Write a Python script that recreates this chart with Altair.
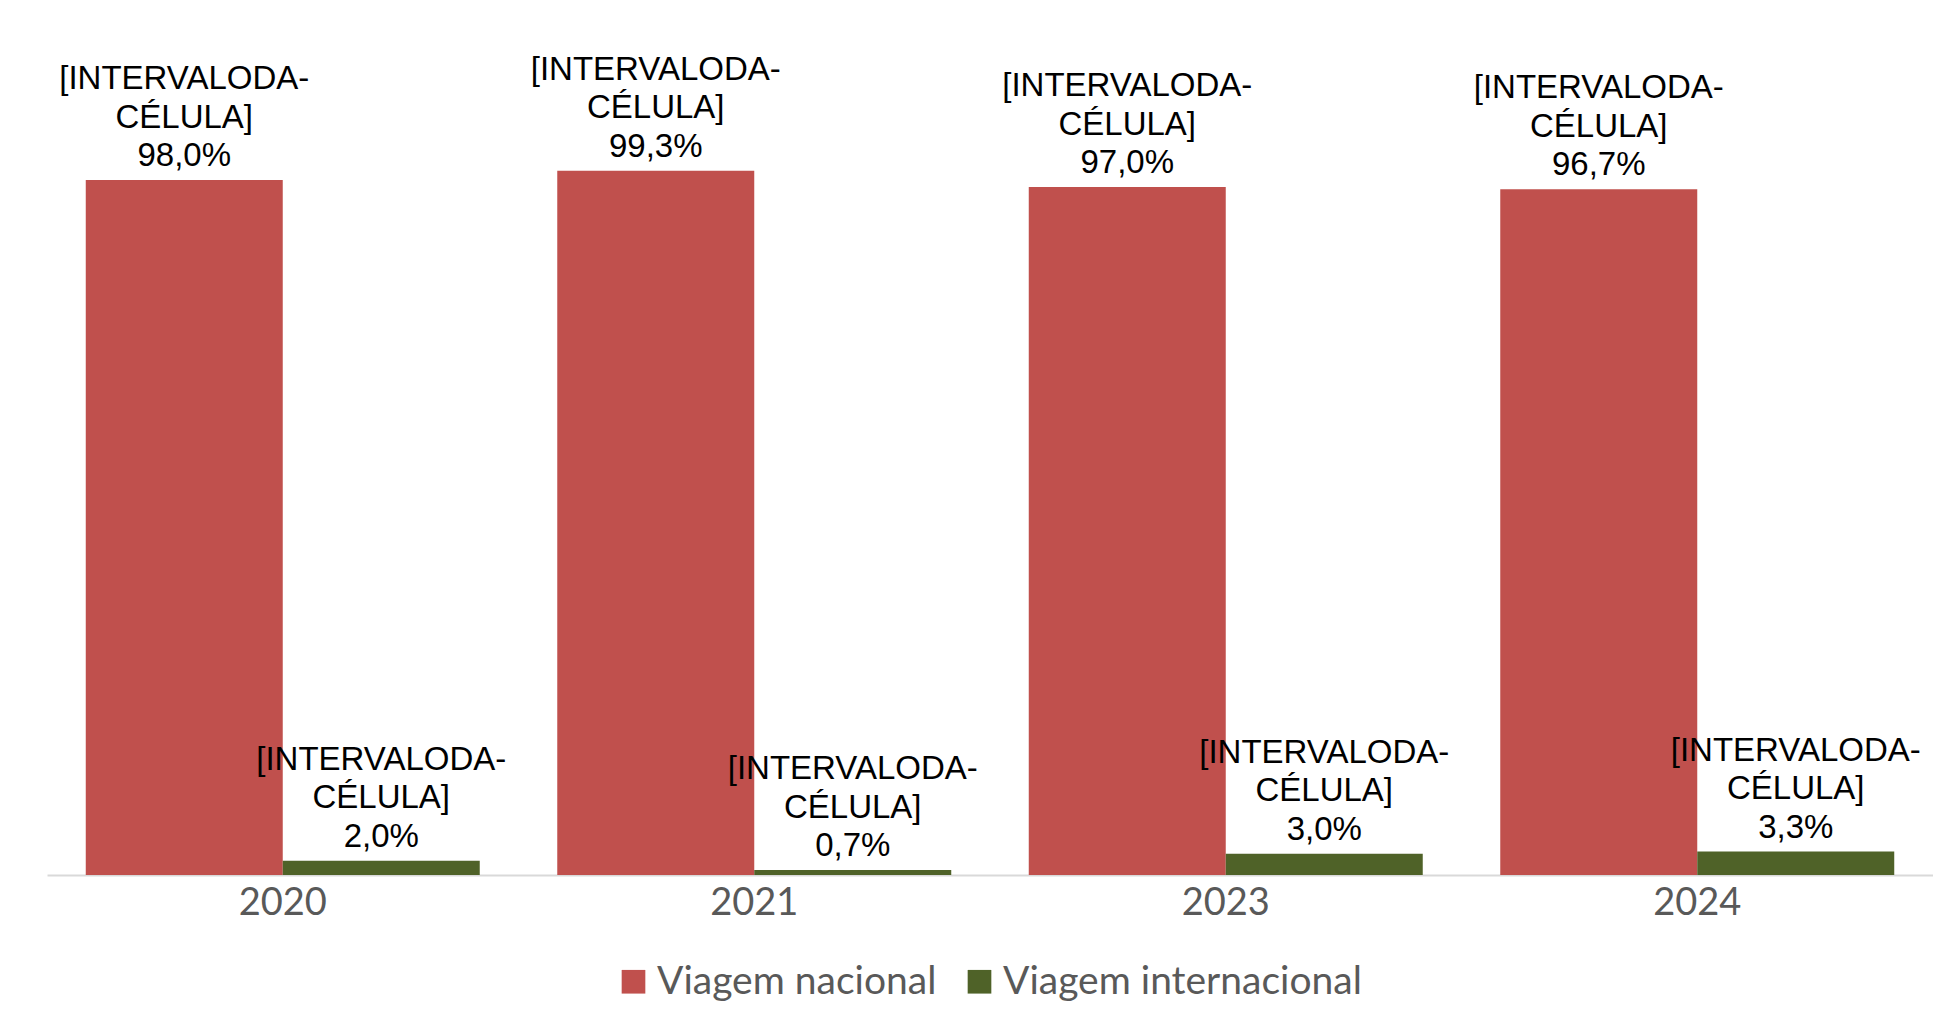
import altair as alt
import pandas as pd

anos = ["2020", "2021", "2023", "2024"]
series = ["Viagem nacional", "Viagem internacional"]
nacional = [0.980, 0.993, 0.970, 0.967]
internacional = [0.020, 0.007, 0.030, 0.033]
cores = ["#C0504D", "#4F6228"]


def rotulo(v):
    return "[INTERVALODA-\nCÉLULA]\n" + f"{v * 100:.1f}".replace(".", ",") + "%"


rows = []
for i, a in enumerate(anos):
    rows.append({"ano": a, "serie": series[0], "valor": nacional[i], "ordem": 0, "rotulo": rotulo(nacional[i])})
    rows.append({"ano": a, "serie": series[1], "valor": internacional[i], "ordem": 1, "rotulo": rotulo(internacional[i])})
df = pd.DataFrame(rows)

x = alt.X(
    "ano:N",
    sort=anos,
    title=None,
    scale=alt.Scale(paddingInner=0.1644, paddingOuter=0.0822),
    axis=alt.Axis(
        labelAngle=0,
        labelFont="Lato",
        labelFontSize=38,
        labelColor="#595959",
        labelPadding=9,
        ticks=False,
        domainColor="#D9D9D9",
        domainWidth=2,
    ),
)
xo = alt.XOffset("serie:N", sort=series, scale=alt.Scale(paddingInner=0, paddingOuter=0))
y = alt.Y("valor:Q", scale=alt.Scale(domain=[0, 1.2]), axis=None)

bars = alt.Chart(df).mark_bar().encode(
    x=x,
    xOffset=xo,
    y=y,
    color=alt.Color(
        "serie:N",
        sort=series,
        scale=alt.Scale(domain=series, range=cores),
        legend=alt.Legend(
            title=None,
            orient="none",
            direction="horizontal",
            legendX=567,
            legendY=938,
            padding=0,
            symbolType="square",
            symbolSize=560,
            symbolStrokeWidth=0,
            symbolOpacity=1,
            labelFont="Lato",
            labelFontSize=39,
            labelColor="#595959",
            labelOffset=4,
            labelLimit=0,
            columnPadding=23,
        ),
    ),
)

labels = alt.Chart(df).mark_text(
    lineBreak="\n",
    font="Liberation Sans",
    fontSize=33,
    lineHeight=38.5,
    baseline="bottom",
    align="center",
    dy=-84,
    color="#000000",
).encode(x=x, xOffset=xo, y=y, text="rotulo:N")

chart = (
    alt.layer(bars, labels)
    .properties(
        width=1886,
        height=851,
        autosize=alt.AutoSizeParams(type="none"),
        padding={"left": 39, "top": 16, "right": 0, "bottom": 129},
        background="#FFFFFF",
    )
    .configure_view(stroke=None)
)

chart.save("out.html", embed_options={"renderer": "svg", "actions": False})
